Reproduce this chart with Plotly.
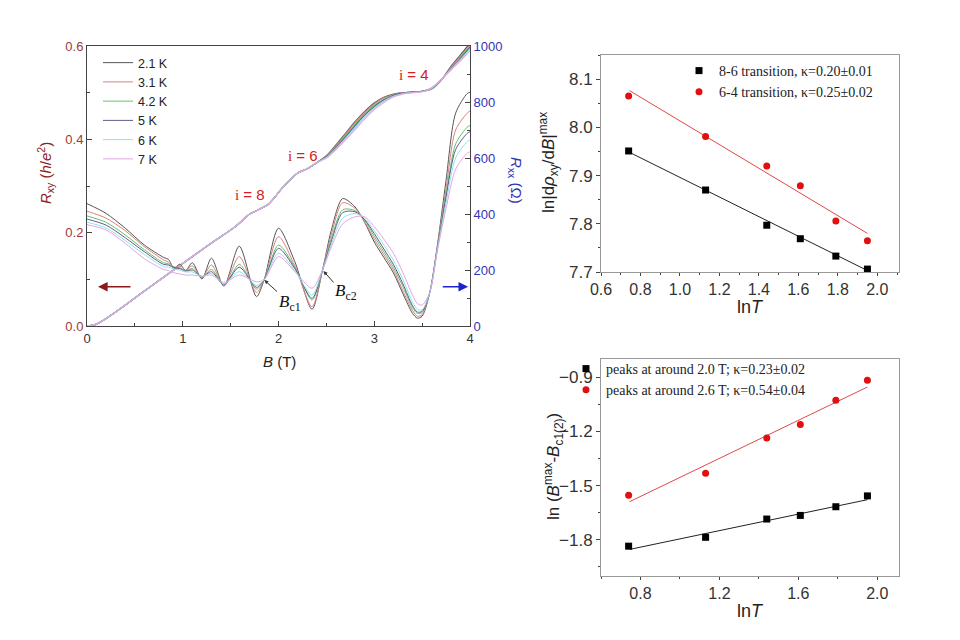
import plotly.graph_objects as go

# ---- left panel: Rxx (right axis) vs B for six temperatures ----
TEMPS = ["2.1 K", "3.1 K", "4.2 K", "5 K", "6 K", "7 K"]
COLORS = ["#555555", "#d98080", "#66c266", "#5c5c8c", "#8ee3ea", "#e3a6e3"]

B_XX = [0.0, 0.2, 0.4, 0.6, 0.8, 0.85, 0.91, 0.97, 1.03, 1.10, 1.20, 1.30, 1.43,
        1.59, 1.77, 1.85, 2.0, 2.17, 2.35, 2.46, 2.55, 2.67, 2.8, 2.9, 3.0, 3.1,
        3.2, 3.3, 3.4, 3.45, 3.5, 3.58, 3.66, 3.75, 3.85, 3.97, 4.0]
RXX_21 = [437, 402, 349, 289, 245, 238, 206, 221, 198, 226, 168, 242, 143, 285, 105, 165,
          349, 230, 60, 200, 340, 455, 425, 370, 300, 245, 190, 115, 45, 28, 35, 120, 290,
          520, 760, 830, 835]
RXX_31 = [410, 385, 340, 283, 236, 228, 210, 215, 200, 215, 172, 218, 143, 248, 120, 165,
          319, 215, 69, 200, 325, 440, 420, 372, 310, 255, 200, 125, 55, 35, 40, 120, 285,
          490, 700, 760, 768]
RXX_42 = [393, 370, 325, 272, 226, 222, 210, 208, 198, 205, 175, 202, 145, 220, 132, 165,
          289, 210, 93, 200, 310, 415, 412, 378, 320, 265, 210, 140, 65, 45, 48, 120, 280,
          470, 650, 710, 716]
RXX_5 = [382, 360, 315, 265, 220, 218, 208, 205, 196, 200, 176, 194, 147, 210, 138, 165,
         277, 205, 99, 200, 300, 405, 408, 380, 330, 275, 220, 150, 72, 50, 52, 120, 278,
         460, 630, 688, 694]
RXX_6 = [371, 350, 305, 255, 212, 210, 203, 200, 193, 193, 177, 188, 150, 194, 145, 165,
         260, 198, 111, 200, 290, 385, 402, 385, 340, 290, 235, 165, 85, 60, 58, 120, 275,
         440, 600, 658, 664]
RXX_7 = [362, 343, 295, 240, 202, 198, 190, 186, 182, 182, 178, 182, 155, 182, 158, 165,
         248, 195, 135, 200, 280, 365, 390, 390, 355, 310, 260, 190, 110, 80, 75, 120, 270,
         420, 560, 617, 622]

# ---- left panel: Rxy (left axis, h/e^2) ----
B_XY_LOW = [0.0, 0.1, 0.3, 0.6, 1.0, 1.3, 1.55, 1.7, 1.8, 1.9, 2.05, 2.2, 2.3, 2.4]
RXY_LOW = [0.0, 0.004, 0.03, 0.075, 0.134, 0.178, 0.213, 0.24, 0.25, 0.262, 0.298, 0.328,
           0.337, 0.35]
B_XY_HIGH = [2.5, 2.6, 2.7, 2.8, 2.9, 3.0, 3.1, 3.2, 3.3, 3.4, 3.5, 3.6, 3.7, 3.8, 3.9, 4.0]
RXY_21 = [0.365, 0.388, 0.413, 0.438, 0.46, 0.478, 0.49, 0.497, 0.5, 0.501, 0.503, 0.508,
          0.527, 0.556, 0.581, 0.606]
RXY_31 = [0.364, 0.386, 0.411, 0.436, 0.458, 0.476, 0.489, 0.496, 0.5, 0.501, 0.503, 0.509,
          0.527, 0.554, 0.578, 0.602]
RXY_42 = [0.363, 0.384, 0.408, 0.432, 0.455, 0.473, 0.486, 0.495, 0.499, 0.501, 0.503, 0.509,
          0.527, 0.552, 0.575, 0.599]
RXY_5 = [0.362, 0.382, 0.405, 0.429, 0.452, 0.47, 0.484, 0.494, 0.499, 0.501, 0.503, 0.51,
         0.528, 0.551, 0.573, 0.597]
RXY_6 = [0.361, 0.38, 0.402, 0.425, 0.448, 0.467, 0.482, 0.492, 0.498, 0.5, 0.502, 0.51,
         0.528, 0.55, 0.571, 0.594]
RXY_7 = [0.36, 0.378, 0.399, 0.421, 0.444, 0.464, 0.479, 0.491, 0.497, 0.5, 0.502, 0.51,
         0.528, 0.548, 0.568, 0.59]

# ---- right panels ----
LNT = [0.74, 1.13, 1.44, 1.61, 1.79, 1.95]
DRHO_86 = [7.951, 7.870, 7.797, 7.769, 7.733, 7.706]
DRHO_64 = [8.065, 7.981, 7.920, 7.879, 7.806, 7.765]
FIT_X = [0.745, 1.95]
FIT_86 = [7.948, 7.703]
FIT_64 = [8.076, 7.780]

PEAK_20 = [-1.835, -1.786, -1.685, -1.665, -1.617, -1.557]
PEAK_26 = [-1.553, -1.432, -1.237, -1.162, -1.028, -0.917]
FIT_20 = [-1.853, -1.578]
FIT_26 = [-1.589, -0.955]

SANS = "Liberation Sans, Arial, sans-serif"
SERIF = "Liberation Serif, Times New Roman, serif"
RED_DARK = "#8b2323"
BLUE = "#3535b5"

fig = go.Figure()

rxx_all = [RXX_21, RXX_31, RXX_42, RXX_5, RXX_6, RXX_7]
rxy_all = [RXY_21, RXY_31, RXY_42, RXY_5, RXY_6, RXY_7]

for name, col, rxx in zip(TEMPS, COLORS, rxx_all):
    fig.add_trace(go.Scatter(
        x=B_XX, y=rxx, mode="lines", name=name,
        line=dict(color=col, width=1, shape="spline", smoothing=0.8),
        xaxis="x", yaxis="y2", legend="legend",
    ))
for name, col, rxy in zip(TEMPS, COLORS, rxy_all):
    fig.add_trace(go.Scatter(
        x=B_XY_LOW + B_XY_HIGH, y=RXY_LOW + rxy, mode="lines", name=name,
        line=dict(color=col, width=1.2, shape="spline", smoothing=0.8),
        xaxis="x", yaxis="y", showlegend=False,
    ))

# top right
fig.add_trace(go.Scatter(x=FIT_X, y=FIT_86, mode="lines", line=dict(color="#222", width=1),
                         xaxis="x2", yaxis="y3", showlegend=False))
fig.add_trace(go.Scatter(x=FIT_X, y=FIT_64, mode="lines", line=dict(color="#e04848", width=1),
                         xaxis="x2", yaxis="y3", showlegend=False))
fig.add_trace(go.Scatter(x=LNT, y=DRHO_86, mode="markers", name="8-6 transition, κ=0.20±0.01",
                         marker=dict(symbol="square", color="#000", size=7),
                         xaxis="x2", yaxis="y3", legend="legend2"))
fig.add_trace(go.Scatter(x=LNT, y=DRHO_64, mode="markers", name="6-4 transition, κ=0.25±0.02",
                         marker=dict(symbol="circle", color="#e01010", size=7),
                         xaxis="x2", yaxis="y3", legend="legend2"))

# bottom right
fig.add_trace(go.Scatter(x=FIT_X, y=FIT_20, mode="lines", line=dict(color="#222", width=1),
                         xaxis="x3", yaxis="y4", showlegend=False))
fig.add_trace(go.Scatter(x=FIT_X, y=FIT_26, mode="lines", line=dict(color="#e04848", width=1),
                         xaxis="x3", yaxis="y4", showlegend=False))
fig.add_trace(go.Scatter(x=LNT, y=PEAK_20, mode="markers",
                         name="peaks at around 2.0 T; κ=0.23±0.02",
                         marker=dict(symbol="square", color="#000", size=7),
                         xaxis="x3", yaxis="y4", legend="legend3"))
fig.add_trace(go.Scatter(x=LNT, y=PEAK_26, mode="markers",
                         name="peaks at around 2.6 T; κ=0.54±0.04",
                         marker=dict(symbol="circle", color="#e01010", size=7),
                         xaxis="x3", yaxis="y4", legend="legend3"))

# the page body adds an 8px margin around the figure
OFF = 8


def px(x):
    return (x - OFF) / 960


def py(y):
    return 1 - (y - OFF) / 640


axis_common = dict(showgrid=False, zeroline=False, linewidth=1, showline=True,
                   automargin=False)

annotations = [
    # axis titles, left panel
    dict(x=px(279), y=py(361), text="<i>B</i> (T)", font=dict(size=15, color="#222")),
    dict(x=px(45), y=py(173), text="<i>R</i><sub>xy</sub> (<i>h</i>/<i>e</i><sup>2</sup>)",
         textangle=-90, font=dict(size=15, color=RED_DARK)),
    dict(x=px(516), y=py(180), text="<i>R</i><sub>xx</sub> (Ω)", textangle=90,
         font=dict(size=15, color=BLUE)),
    # right panels titles
    dict(x=px(548), y=py(163),
         text="ln|d<i>ρ</i><sub>xy</sub>/d<i>B</i>|<sup>max</sup>", textangle=-90,
         font=dict(size=17, color="#222")),
    dict(x=px(750), y=py(307), text="ln<i>T</i>", font=dict(size=18, color="#222")),
    dict(x=px(553), y=py(467),
         text="ln (<i>B</i><sup>max</sup>-<i>B</i><sub>c1(2)</sub>)", textangle=-90,
         font=dict(size=17, color="#222")),
    dict(x=px(750), y=py(611), text="ln<i>T</i>", font=dict(size=18, color="#222")),
]
for a in annotations:
    a.update(xref="paper", yref="paper", showarrow=False, xanchor="center",
             yanchor="middle")

# filling factor labels
for b, r, n in [(1.707, 0.281, "8"), (2.26, 0.366, "6"), (3.41, 0.538, "4")]:
    annotations.append(dict(x=b, y=r, xref="x", yref="y", showarrow=False,
                            text=f"<span style='font-family:Liberation Serif'>i</span> = {n}",
                            xanchor="center", yanchor="middle",
                            font=dict(size=15, color="#d42020", family=SANS)))

# axis pointing arrows
annotations.append(dict(x=0.115, y=0.084, ax=0.47, ay=0.084, xref="x", yref="y",
                        axref="x", ayref="y", text="", showarrow=True, arrowhead=2,
                        arrowsize=1.2, arrowwidth=1.6, arrowcolor="#8b1a1a"))
annotations.append(dict(x=3.98, y=140, ax=3.70, ay=140, xref="x", yref="y2",
                        axref="x", ayref="y2", text="", showarrow=True, arrowhead=2,
                        arrowsize=1.2, arrowwidth=1.6, arrowcolor="#2020cc"))
# Bc1, Bc2
annotations.append(dict(x=1.853, y=164, ax=2.0, ay=118, xref="x", yref="y2",
                        axref="x", ayref="y2", text="", showarrow=True, arrowhead=2,
                        arrowsize=0.8, arrowwidth=1, arrowcolor="#333"))
annotations.append(dict(x=2.47, y=196, ax=2.59, ay=150, xref="x", yref="y2",
                        axref="x", ayref="y2", text="", showarrow=True, arrowhead=2,
                        arrowsize=0.8, arrowwidth=1, arrowcolor="#333"))
annotations.append(dict(x=2.115, y=82, xref="x", yref="y2", showarrow=False,
                        xanchor="center", yanchor="middle",
                        text="<i>B</i><sub>c1</sub>", font=dict(size=17, family=SERIF, color="#111")))
annotations.append(dict(x=2.71, y=121, xref="x", yref="y2", showarrow=False,
                        xanchor="center", yanchor="middle",
                        text="<i>B</i><sub>c2</sub>", font=dict(size=17, family=SERIF, color="#111")))

fig.update_layout(
    width=960, height=640,
    margin=dict(l=0, r=0, t=0, b=0),
    paper_bgcolor="white", plot_bgcolor="white",
    font=dict(family=SANS, size=14, color="#222"),
    xaxis=dict(domain=[px(87), px(470)], anchor="y", range=[0, 4], dtick=1,
               ticks="inside", ticklen=5, linecolor="#444", mirror=True,
               minor=dict(dtick=0.5, ticks="inside", ticklen=3),
               tickfont=dict(size=13, color="#333"), **axis_common),
    yaxis=dict(domain=[py(326), py(46)], anchor="x", range=[0, 0.6], dtick=0.2,
               tickformat=".1f", ticks="inside", ticklen=5, linecolor="#444",
               minor=dict(dtick=0.1, ticks="inside", ticklen=3),
               tickfont=dict(size=13, color="#9b3a3a"), **axis_common),
    yaxis2=dict(overlaying="y", anchor="x", side="right", range=[0, 1000], dtick=200,
                ticks="inside", ticklen=5, linecolor="#444",
                minor=dict(dtick=100, ticks="inside", ticklen=3),
                tickfont=dict(size=13, color=BLUE), **axis_common),
    xaxis2=dict(domain=[px(601), px(899)], anchor="y3", range=[0.6, 2.11], dtick=0.2,
                tickformat=".1f", ticks="outside", ticklen=3, linecolor="#999", mirror=True,
                minor=dict(dtick=0.1, ticks="outside", ticklen=2),
                tickfont=dict(size=16, color="#333"), **axis_common),
    yaxis3=dict(domain=[py(272), py(55)], anchor="x2", range=[7.7, 8.15], dtick=0.1,
                tickformat=".1f", ticks="outside", ticklen=4, linecolor="#999", mirror=True,
                minor=dict(dtick=0.05, ticks="outside", ticklen=2),
                tickfont=dict(size=17, color="#333"), **axis_common),
    xaxis3=dict(domain=[px(601), px(899)], anchor="y4", range=[0.6, 2.11], dtick=0.4,
                tickformat=".1f", ticks="outside", ticklen=3, linecolor="#999", mirror=True,
                minor=dict(dtick=0.2, ticks="outside", ticklen=2),
                tickfont=dict(size=16, color="#333"), **axis_common),
    yaxis4=dict(domain=[py(576), py(359)], anchor="x3", range=[-2.0, -0.8], dtick=0.3,
                tick0=-0.9, tickformat=".1f", ticks="outside", ticklen=4, linecolor="#999",
                mirror=True, minor=dict(dtick=0.15, ticks="outside", ticklen=2),
                tickfont=dict(size=17, color="#333"), **axis_common),
    legend=dict(x=px(98), y=py(48), xanchor="left", yanchor="top",
                bgcolor="rgba(0,0,0,0)", font=dict(size=12.5, color="#222"),
                tracegroupgap=0, itemwidth=30),
    legend2=dict(x=px(679), y=py(55), xanchor="left", yanchor="top",
                 bgcolor="rgba(0,0,0,0)", font=dict(size=14, family=SERIF, color="#222")),
    legend3=dict(x=px(566), y=py(353), xanchor="left", yanchor="top",
                 bgcolor="rgba(0,0,0,0)", font=dict(size=14, family=SERIF, color="#222")),
    annotations=annotations,
)

fig.write_html("out.html")
